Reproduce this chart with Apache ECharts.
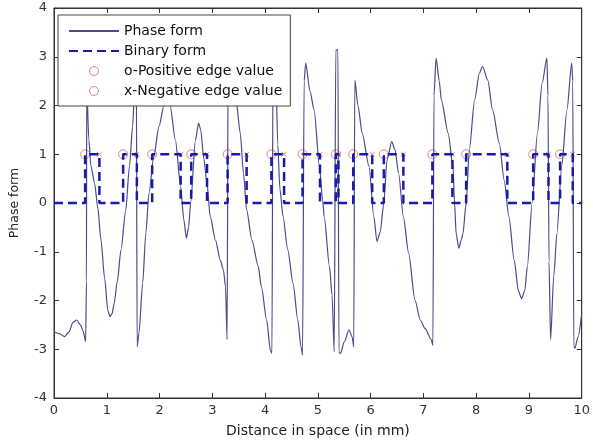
<!DOCTYPE html>
<html>
<head>
<meta charset="utf-8">
<script src="https://cdn.jsdelivr.net/npm/echarts@6/dist/echarts.min.js"></script>
<style>
  html, body { margin: 0; padding: 0; background: #fff; }
  #chart { width: 593px; height: 447px; }
</style>
</head>
<body>
<div id="chart"></div>
<script>
// phase form (x in mm, y in rad)
const phaseX = [0, 0.1, 0.2, 0.28, 0.36, 0.43, 0.5, 0.55, 0.6, 0.615, 0.62,
  0.66, 0.7, 0.77, 0.83, 0.89, 0.96, 1.02, 1.06, 1.1, 1.14, 1.2, 1.27, 1.36, 1.43, 1.49, 1.53, 1.56,
  1.575, 1.61, 1.68, 1.74, 1.8, 1.89, 1.99, 2.08, 2.14, 2.2, 2.3, 2.4, 2.46, 2.51, 2.55, 2.59,
  2.68, 2.74, 2.78, 2.84, 2.9, 2.96, 3.06, 3.15, 3.21, 3.25, 3.28, 3.3,
  3.36, 3.45, 3.53, 3.59, 3.65, 3.75, 3.87, 3.93, 4.03, 4.1, 4.13, 4.15,
  4.2, 4.24, 4.28, 4.34, 4.43, 4.53, 4.62, 4.68, 4.71, 4.74,
  4.77, 4.85, 4.93, 5.03, 5.09, 5.12, 5.22, 5.27, 5.31, 5.34, 5.38, 5.4,
  5.43, 5.5, 5.59, 5.65, 5.68, 5.7, 5.76, 5.84, 5.97, 6.06, 6.12, 6.18, 6.25,
  6.31, 6.4, 6.46, 6.53, 6.62, 6.72, 6.84, 6.94, 7.03, 7.15, 7.18, 7.2,
  7.24, 7.3, 7.34, 7.47, 7.56, 7.59, 7.62, 7.67, 7.72, 7.75, 7.81, 7.87, 7.97,
  8.06, 8.12, 8.22, 8.31, 8.44, 8.53, 8.62, 8.72, 8.8, 8.86, 8.92, 8.97,
  9.06, 9.16, 9.25, 9.34, 9.36, 9.38, 9.41, 9.47, 9.53, 9.62, 9.72, 9.81,
  9.83, 9.85, 9.87, 9.93, 10]
const phaseY = [-2.64, -2.68, -2.74, -2.65, -2.45, -2.4, -2.5, -2.62, -2.84, -1.6, 2.4,
  1.3, 0.75, 0.4, -0.1, -0.76, -1.55, -2.2, -2.33, -2.27, -2.06, -1.6, -0.96, -0.14, 0.75, 1.57, 2.4, 3.0,
  -2.95, -2.67, -1.65, -0.62, 0.2, 0.95, 1.57, 1.98, 2.1, 2.0, 1.29, 0.33, -0.35, -0.72, -0.5, 0,
  1.29, 1.64, 1.5, 0.9, 0.4, -0.28, -0.76, -1.17, -1.37, -1.71, -2.8, 3.05,
  2.9, 2.1, 1.43, 0.61, -0.14, -0.76, -1.3, -1.72, -2.4, -3.02, -3.08, 3.0,
  2.9, 1.2, 0.3, -0.28, -0.96, -1.65, -2.4, -2.95, -3.12, 2.5,
  2.87, 2.3, 1.9, 0.75, 0.06, -0.28, -1.3, -1.9, -3.05, 3.14, 3.14, -3.08,
  -3.08, -2.85, -2.6, -2.75, -2.95, 2.52, 2.0, 1.43, 0.75, -0.28, -0.79, -0.6, 0,
  0.88, 1.26, 1.1, 0.61, -0.28, -1.03, -1.99, -2.4, -2.57, -2.8, -2.92, 2.2,
  2.97, 2.5, 2.11, 1.43, 0.75, 0, -0.62, -0.93, -0.75, -0.62, 0, 1.09, 2.11,
  2.66, 2.8, 2.52, 1.91, 1.22, 0.47, -0.28, -1.17, -1.8, -1.96, -1.8, -1.3,
  0, 1.43, 2.46, 2.97, 2.2, -1.2, -2.8, -1.5, -0.62, 0.75, 1.91, 2.87,
  2.5, -2.95, -2.98, -2.75, -2.26]

// edges of the binary form
const posEdgeX = [0.59, 1.31, 1.86, 2.6, 3.29, 4.12, 4.71, 5.34, 5.67, 6.25, 7.17, 7.81, 9.08, 9.59]
const negEdgeX = [0.86, 1.57, 2.4, 2.9, 3.65, 4.36, 5.04, 5.39, 6.03, 6.62, 7.55, 8.59, 9.37, 9.83]
const edgeLevel = 1

const phaseData = phaseX.map((x, i) => [x, phaseY[i]])
const binaryData = [[0, 0]]
posEdgeX.forEach((r, i) => {
  binaryData.push([r, 0], [r, edgeLevel], [negEdgeX[i], edgeLevel], [negEdgeX[i], 0])
})
binaryData.push([10, 0])

const font = 'DejaVu Sans'
const axisColor = '#333'
const edgeColor = '#cf6a6a'
const noSymbol = { color: 'rgba(0,0,0,0)', borderWidth: 0 }
const ring = { color: 'rgba(0,0,0,0)', borderColor: edgeColor, borderWidth: 1 }

const chart = echarts.init(document.getElementById('chart'))
chart.setOption({
  animation: false,
  grid: {
    left: 52,
    right: 8,
    top: 8,
    bottom: 49,
    show: true,
    borderColor: axisColor,
    borderWidth: 1
  },
  legend: {
    orient: 'vertical',
    left: 58,
    top: 15,
    backgroundColor: '#fff',
    borderColor: '#444',
    borderWidth: 1,
    borderRadius: 0,
    padding: [9, 8, 8, 10],
    itemWidth: 50,
    itemHeight: 9,
    itemGap: 6,
    textStyle: { fontFamily: font, fontSize: 14, color: '#111' },
    data: [
      { name: 'Phase form', itemStyle: noSymbol },
      { name: 'Binary form', itemStyle: noSymbol },
      { name: 'o-Positive edge value', icon: 'circle', itemStyle: ring },
      { name: 'x-Negative edge value', icon: 'circle', itemStyle: ring }
    ]
  },
  xAxis: [{
    type: 'value',
    min: 0,
    max: 10,
    interval: 1,
    name: 'Distance in space (in mm)',
    nameLocation: 'middle',
    nameGap: 26,
    nameTextStyle: { fontFamily: font, fontSize: 14, color: '#222' },
    axisLine: { show: true, onZero: false, lineStyle: { color: axisColor } },
    axisTick: { inside: true, length: 5, lineStyle: { color: axisColor } },
    axisLabel: { fontFamily: font, fontSize: 13, color: '#333', margin: 6 },
    splitLine: { show: false }
  }, {
    type: 'value',
    position: 'top',
    min: 0,
    max: 10,
    interval: 1,
    axisLine: { show: true, onZero: false, lineStyle: { color: axisColor } },
    axisTick: { inside: true, length: 5, lineStyle: { color: axisColor } },
    axisLabel: { show: false },
    splitLine: { show: false }
  }],
  yAxis: [{
    type: 'value',
    min: -4,
    max: 4,
    interval: 1,
    name: 'Phase form',
    nameLocation: 'middle',
    nameGap: 33,
    nameTextStyle: { fontFamily: font, fontSize: 12.5, color: '#222' },
    axisLine: { show: true, onZero: false, lineStyle: { color: axisColor } },
    axisTick: { inside: true, length: 5, lineStyle: { color: axisColor } },
    axisLabel: { fontFamily: font, fontSize: 13, color: '#333', margin: 7 },
    splitLine: { show: false }
  }, {
    type: 'value',
    position: 'right',
    min: -4,
    max: 4,
    interval: 1,
    axisLine: { show: true, onZero: false, lineStyle: { color: axisColor } },
    axisTick: { inside: true, length: 5, lineStyle: { color: axisColor } },
    axisLabel: { show: false },
    splitLine: { show: false }
  }],
  series: [{
    name: 'Phase form',
    type: 'line',
    symbol: 'none',
    smooth: 0.25,
    smoothMonotone: 'x',
    lineStyle: { color: '#4a4a8c', width: 1.2 },
    itemStyle: { color: '#4a4a8c' },
    data: phaseData
  }, {
    name: 'Binary form',
    type: 'line',
    symbol: 'none',
    lineStyle: { color: '#1a1aa8', width: 2.5, type: [9, 5] },
    itemStyle: { color: '#1a1aa8' },
    data: binaryData
  }, {
    name: 'o-Positive edge value',
    type: 'scatter',
    symbol: 'circle',
    symbolSize: 9,
    itemStyle: ring,
    data: posEdgeX.map(x => [x, edgeLevel])
  }, {
    name: 'x-Negative edge value',
    type: 'scatter',
    symbol: 'path://M0,0L10,10M10,0L0,10',
    symbolSize: 5,
    itemStyle: ring,
    data: negEdgeX.map(x => [x, edgeLevel])
  }]
})
</script>
</body>
</html>
